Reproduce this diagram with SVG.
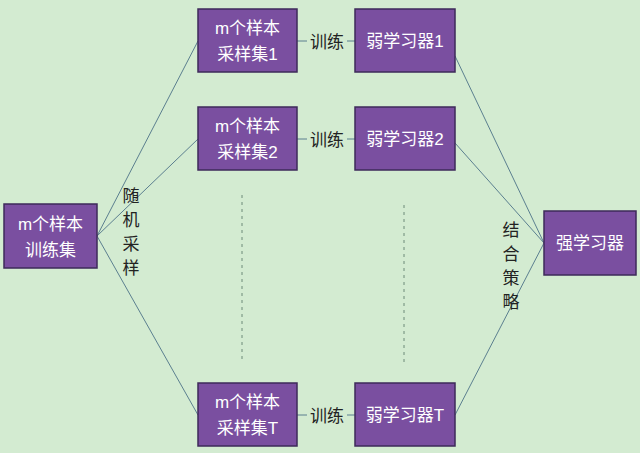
<svg xmlns="http://www.w3.org/2000/svg" width="640" height="453" viewBox="0 0 640 453">
<style>
.box{fill:#7a4fa0;stroke:#3e2a5a;stroke-width:1.5}
.bt{fill:#ffffff;font-family:"Liberation Sans","Noto Sans CJK SC",sans-serif;font-size:17px;text-anchor:middle}
.lt{fill:#222;font-family:"Noto Sans CJK SC",sans-serif;font-size:17px;text-anchor:middle}
.ln{stroke:#5b7f8f;stroke-width:1;fill:none}
.dash{stroke:#6c8a78;stroke-width:1;stroke-dasharray:3 4;fill:none}
</style>
<rect width="640" height="453" fill="#d3ebd1"/>
<g id="connectors">
<line class="ln" x1="97" y1="236" x2="198" y2="41"/>
<line class="ln" x1="97" y1="236" x2="198" y2="139"/>
<line class="ln" x1="97" y1="236" x2="198" y2="415"/>
<line class="ln" x1="297" y1="41" x2="355" y2="41"/>
<line class="ln" x1="297" y1="139" x2="355" y2="139"/>
<line class="ln" x1="297" y1="415" x2="355" y2="415"/>
<line class="ln" x1="455" y1="56" x2="544" y2="243"/>
<line class="ln" x1="455" y1="143" x2="544" y2="243"/>
<line class="ln" x1="455" y1="415" x2="544" y2="243"/>
<line class="dash" x1="242" y1="195" x2="242" y2="360"/>
<line class="dash" x1="404" y1="205" x2="404" y2="365"/>
<rect x="307" y="31" width="40" height="20" fill="#d3ebd1"/>
<text class="lt" x="327" y="48">训练</text>
<rect x="307" y="129" width="40" height="20" fill="#d3ebd1"/>
<text class="lt" x="327" y="146">训练</text>
<rect x="307" y="405" width="40" height="20" fill="#d3ebd1"/>
<text class="lt" x="327" y="422">训练</text>
<text class="lt" x="131" y="202">随</text>
<text class="lt" x="131" y="226">机</text>
<text class="lt" x="131" y="250">采</text>
<text class="lt" x="131" y="274">样</text>
<text class="lt" x="511" y="236">结</text>
<text class="lt" x="511" y="260">合</text>
<text class="lt" x="511" y="284">策</text>
<text class="lt" x="511" y="308">略</text>
</g>
<g id="train-set">
<rect class="box" x="4" y="204" width="93" height="64"/>
<text class="bt" x="50.5" y="230">m个样本</text>
<text class="bt" x="50.5" y="256">训练集</text>
</g>
<g id="sample-1">
<rect class="box" x="198" y="9" width="99" height="63"/>
<text class="bt" x="247.5" y="34">m个样本</text>
<text class="bt" x="247.5" y="60">采样集1</text>
</g>
<g id="sample-2">
<rect class="box" x="198" y="107" width="99" height="63"/>
<text class="bt" x="247.5" y="132">m个样本</text>
<text class="bt" x="247.5" y="158">采样集2</text>
</g>
<g id="sample-T">
<rect class="box" x="198" y="383" width="99" height="63"/>
<text class="bt" x="247.5" y="408">m个样本</text>
<text class="bt" x="247.5" y="434">采样集T</text>
</g>
<g id="weak-1">
<rect class="box" x="355" y="9" width="100" height="63"/>
<text class="bt" x="405" y="47">弱学习器1</text>
</g>
<g id="weak-2">
<rect class="box" x="355" y="107" width="100" height="63"/>
<text class="bt" x="405" y="145">弱学习器2</text>
</g>
<g id="weak-T">
<rect class="box" x="355" y="383" width="100" height="63"/>
<text class="bt" x="405" y="421">弱学习器T</text>
</g>
<g id="strong">
<rect class="box" x="544" y="211" width="92" height="64"/>
<text class="bt" x="590" y="249">强学习器</text>
</g>
</svg>
